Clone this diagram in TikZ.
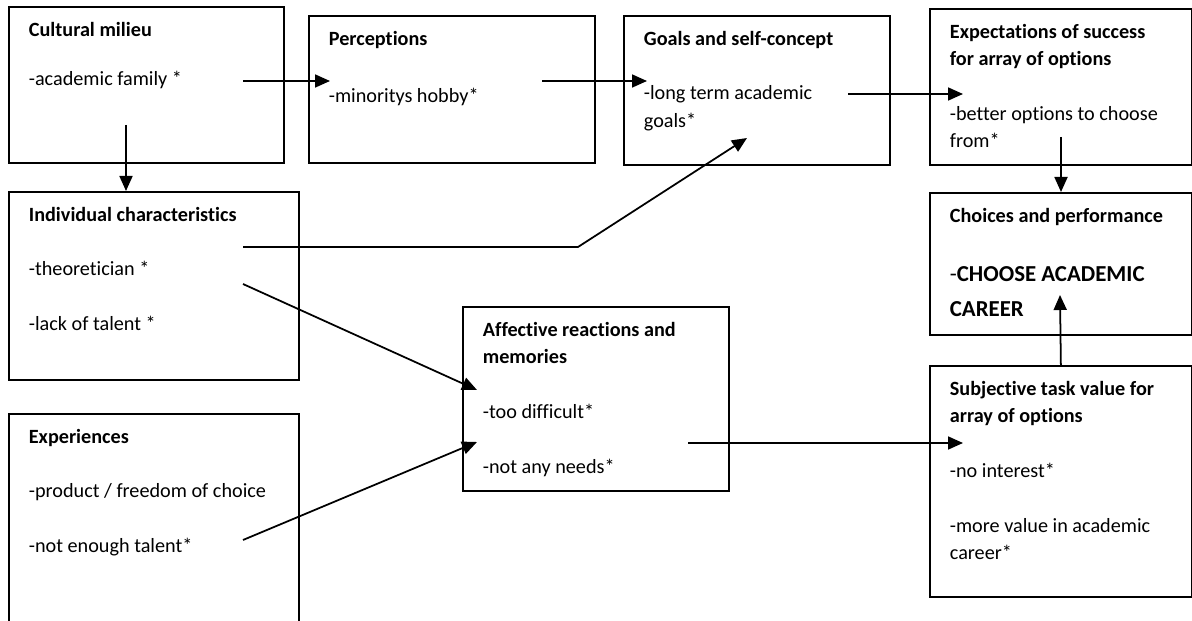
\documentclass[tikz,border=0pt]{standalone}
\usepackage{fontspec}
\setmainfont{Carlito}[Ligatures={NoCommon,NoRequired,NoContextual}, Contextuals=NoAlternate]
\usetikzlibrary{arrows.meta}

\newcommand{\boxtext}[3]{\begin{minipage}[t][#2][t]{#1}\raggedright #3\end{minipage}}

\begin{document}
\begin{tikzpicture}[box/.style={draw, line width=1pt, anchor=north west, inner xsep=0.4cm, inner ysep=0.3cm, font=\fontsize{11.5}{15.6}\selectfont},
  link/.style={line width=1pt, -{Triangle[length=3mm,width=2.6mm]}}]
  \useasboundingbox (0cm,0cm) rectangle (23.84cm,-12.42cm);

  \node[box] (milieu) at (0.16cm,-0.12cm) {\boxtext{4.7cm}{2.52cm}{\textbf{Cultural milieu}\\[4.5mm] -academic family *}};
  \node[box] (percep) at (6.16cm,-0.3cm) {\boxtext{4.92cm}{2.34cm}{\textbf{Perceptions}\\[6mm] -minoritys hobby*}};
  \node[box] (goals) at (12.46cm,-0.3cm) {\boxtext{4.52cm}{2.38cm}{\textbf{Goals and self-concept}\\[5.5mm] -long term academic\\ goals*}};
  \node[box] (expect) at (18.58cm,-0.16cm) {\boxtext{4.44cm}{2.52cm}{\textbf{Expectations of success\\ for array of options}\\[5.5mm] -better options to choose\\ from*}};

  \node[box] (indiv) at (0.16cm,-3.82cm) {\boxtext{5cm}{3.16cm}{\textbf{Individual characteristics}\\[5.5mm] -theoretician *\\[5.5mm] -lack of talent *}};
  \node[box] (choice) at (18.58cm,-3.84cm) {\boxtext{4.44cm}{2.24cm}{\textbf{Choices and performance}\\[5.5mm] {\fontsize{13}{18}\selectfont -\textbf{CHOOSE ACADEMIC}\\[1.5mm] \textbf{CAREER}}}};

  \node[box] (affect) at (9.24cm,-6.12cm) {\boxtext{4.52cm}{3.08cm}{\textbf{Affective reactions and\\ memories}\\[5.5mm] -too difficult*\\[5.5mm] -not any needs*}};
  \node[box] (value) at (18.58cm,-7.3cm) {\boxtext{4.44cm}{4.02cm}{\textbf{Subjective task value for\\ array of options}\\[5.5mm] -no interest*\\[5.5mm] -more value in academic\\ career*}};

  \node[box] (exper) at (0.16cm,-8.26cm) {\boxtext{5cm}{3.94cm}{\textbf{Experiences}\\[5.5mm] -product / freedom of choice\\[5.5mm] -not enough talent*}};

  % arrow ends inside the boxes
  \coordinate (m1) at (4.86cm,-1.62cm);
  \coordinate (m2) at (2.52cm,-2.5cm);
  \coordinate (i0) at (2.52cm,-3.82cm);
  \coordinate (p0) at (6.6cm,-1.62cm);
  \coordinate (p1) at (10.84cm,-1.62cm);
  \coordinate (g0) at (12.94cm,-1.62cm);
  \coordinate (g1) at (16.96cm,-1.88cm);
  \coordinate (g2) at (14.94cm,-2.76cm);
  \coordinate (e0) at (19.26cm,-1.88cm);
  \coordinate (e1) at (21.22cm,-2.74cm);
  \coordinate (i1) at (4.86cm,-4.94cm);
  \coordinate (bend) at (11.56cm,-4.94cm);
  \coordinate (i2) at (4.86cm,-5.68cm);
  \coordinate (a0) at (9.54cm,-7.8cm);
  \coordinate (a1) at (9.54cm,-8.84cm);
  \coordinate (a2) at (13.76cm,-8.86cm);
  \coordinate (x1) at (4.86cm,-10.8cm);
  \coordinate (v0) at (19.26cm,-8.86cm);
  \coordinate (c0) at (21.2cm,-5.9cm);

  \draw[link] (m1) -- (p0); \draw[link] (p1) -- (g0); \draw[link] (g1) -- (e0);
  \draw[link] (m2) -- (i0); \draw[link] (e1) -- (choice.north -| e1);
  \draw[link] (i1) -- (bend) -- (g2); \draw[link] (i2) -- (a0); \draw[link] (x1) -- (a1);
  \draw[link] (a2) -- (v0); \draw[link] (value.north) -- (c0);
\end{tikzpicture}
\end{document}
